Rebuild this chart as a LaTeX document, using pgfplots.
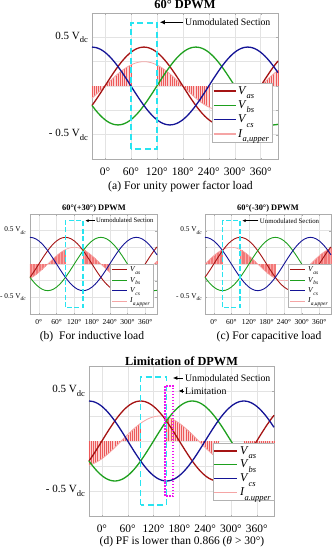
\documentclass[border=0pt]{standalone}
\usepackage{fontspec}
\setmainfont{Liberation Serif}
\usepackage{pgfplots}
\pgfplotsset{compat=1.18}
\usepackage{pgfplotstable}
\usetikzlibrary{arrows.meta}

\definecolor{cva}{RGB}{165,20,20}
\definecolor{cvb}{RGB}{30,160,30}
\definecolor{cvc}{RGB}{20,20,150}
\definecolor{cia}{RGB}{245,165,165}
\definecolor{hatchln}{RGB}{236,90,90}
\definecolor{hatchbg}{RGB}{252,212,212}
\definecolor{hatchlnb}{RGB}{242,120,120}
\definecolor{hatchbgb}{RGB}{250,170,170}
\definecolor{ccyan}{RGB}{40,228,240}
\definecolor{cmag}{RGB}{240,20,240}

\newcommand{\dcA}{\raisebox{-3.5pt}{\fontsize{8.5}{8.5}\selectfont dc}}
\newcommand{\dcB}{\raisebox{-2.2pt}{\fontsize{5.5}{5.5}\selectfont\itshape dc}}
\newcommand{\LA}[2]{\textit{#1}\raisebox{-4.5pt}{\fontsize{8.5}{8.5}\selectfont\itshape #2}}
\newcommand{\LB}[2]{\textit{#1}\raisebox{-2.6pt}{\fontsize{5.5}{5.5}\selectfont\itshape #2}}

\pgfplotstableread{
t va vb vc
-30 -0.2 -0.2 0.4
-20 -0.1368 -0.2571 0.3939
-10 -0.0695 -0.3064 0.3759
0 0 -0.3464 0.3464
10 0.0695 -0.3759 0.3064
20 0.1368 -0.3939 0.2571
30 0.2 -0.4 0.2
40 0.2571 -0.3939 0.1368
50 0.3064 -0.3759 0.0695
60 0.3464 -0.3464 0
70 0.3759 -0.3064 -0.0695
80 0.3939 -0.2571 -0.1368
90 0.4 -0.2 -0.2
100 0.3939 -0.1368 -0.2571
110 0.3759 -0.0695 -0.3064
120 0.3464 0 -0.3464
130 0.3064 0.0695 -0.3759
140 0.2571 0.1368 -0.3939
150 0.2 0.2 -0.4
160 0.1368 0.2571 -0.3939
170 0.0695 0.3064 -0.3759
180 0 0.3464 -0.3464
190 -0.0695 0.3759 -0.3064
200 -0.1368 0.3939 -0.2571
210 -0.2 0.4 -0.2
220 -0.2571 0.3939 -0.1368
230 -0.3064 0.3759 -0.0695
240 -0.3464 0.3464 0
250 -0.3759 0.3064 0.0695
260 -0.3939 0.2571 0.1368
270 -0.4 0.2 0.2
280 -0.3939 0.1368 0.2571
290 -0.3759 0.0695 0.3064
300 -0.3464 0 0.3464
310 -0.3064 -0.0695 0.3759
320 -0.2571 -0.1368 0.3939
330 -0.2 -0.2 0.4
340 -0.1368 -0.2571 0.3939
350 -0.0695 -0.3064 0.3759
360 0 -0.3464 0.3464
370 0.0695 -0.3759 0.3064
380 0.1368 -0.3939 0.2571
390 0.2 -0.4 0.2
400 0.2571 -0.3939 0.1368
}\volt

\pgfplotstableread{
t ia ib ic id
-30 -0.125 -0.2165 0 -0.2415
-25 -0.1057 -0.2048 0.0218 -0.2349
-20 -0.0855 -0.1915 0.0434 -0.2266
-15 -0.0647 -0.1768 0.0647 -0.2165
-10 -0.0434 -0.1607 0.0855 -0.2048
-5 -0.0218 -0.1434 0.1057 -0.1915
0 0 -0.125 0.125 -0.1768
5 0.0218 -0.1057 0.1434 -0.1607
10 0.0434 -0.0855 0.1607 -0.1434
15 0.0647 -0.0647 0.1768 -0.125
20 0.0855 -0.0434 0.1915 -0.1057
25 0.1057 -0.0218 0.2048 -0.0855
30 0.125 0 0.2165 -0.0647
35 0.1434 0.0218 0.2266 -0.0434
40 0.1607 0.0434 0.2349 -0.0218
45 0.1768 0.0647 0.2415 0
50 0.1915 0.0855 0.2462 0.0218
55 0.2048 0.1057 0.2491 0.0434
60 0.2165 0.125 0.25 0.0647
65 0.2266 0.1434 0.2491 0.0855
70 0.2349 0.1607 0.2462 0.1057
75 0.2415 0.1768 0.2415 0.125
80 0.2462 0.1915 0.2349 0.1434
85 0.2491 0.2048 0.2266 0.1607
90 0.25 0.2165 0.2165 0.1768
95 0.2491 0.2266 0.2048 0.1915
100 0.2462 0.2349 0.1915 0.2048
105 0.2415 0.2415 0.1768 0.2165
110 0.2349 0.2462 0.1607 0.2266
115 0.2266 0.2491 0.1434 0.2349
120 0.2165 0.25 0.125 0.2415
125 0.2048 0.2491 0.1057 0.2462
130 0.1915 0.2462 0.0855 0.2491
135 0.1768 0.2415 0.0647 0.25
140 0.1607 0.2349 0.0434 0.2491
145 0.1434 0.2266 0.0218 0.2462
150 0.125 0.2165 0 0.2415
155 0.1057 0.2048 -0.0218 0.2349
160 0.0855 0.1915 -0.0434 0.2266
165 0.0647 0.1768 -0.0647 0.2165
170 0.0434 0.1607 -0.0855 0.2048
175 0.0218 0.1434 -0.1057 0.1915
180 0 0.125 -0.125 0.1768
185 -0.0218 0.1057 -0.1434 0.1607
190 -0.0434 0.0855 -0.1607 0.1434
195 -0.0647 0.0647 -0.1768 0.125
200 -0.0855 0.0434 -0.1915 0.1057
205 -0.1057 0.0218 -0.2048 0.0855
210 -0.125 0 -0.2165 0.0647
215 -0.1434 -0.0218 -0.2266 0.0434
220 -0.1607 -0.0434 -0.2349 0.0218
225 -0.1768 -0.0647 -0.2415 0
230 -0.1915 -0.0855 -0.2462 -0.0218
235 -0.2048 -0.1057 -0.2491 -0.0434
240 -0.2165 -0.125 -0.25 -0.0647
245 -0.2266 -0.1434 -0.2491 -0.0855
250 -0.2349 -0.1607 -0.2462 -0.1057
255 -0.2415 -0.1768 -0.2415 -0.125
260 -0.2462 -0.1915 -0.2349 -0.1434
265 -0.2491 -0.2048 -0.2266 -0.1607
270 -0.25 -0.2165 -0.2165 -0.1768
275 -0.2491 -0.2266 -0.2048 -0.1915
280 -0.2462 -0.2349 -0.1915 -0.2048
285 -0.2415 -0.2415 -0.1768 -0.2165
290 -0.2349 -0.2462 -0.1607 -0.2266
295 -0.2266 -0.2491 -0.1434 -0.2349
300 -0.2165 -0.25 -0.125 -0.2415
305 -0.2048 -0.2491 -0.1057 -0.2462
310 -0.1915 -0.2462 -0.0855 -0.2491
315 -0.1768 -0.2415 -0.0647 -0.25
320 -0.1607 -0.2349 -0.0434 -0.2491
325 -0.1434 -0.2266 -0.0218 -0.2462
330 -0.125 -0.2165 0 -0.2415
335 -0.1057 -0.2048 0.0218 -0.2349
340 -0.0855 -0.1915 0.0434 -0.2266
345 -0.0647 -0.1768 0.0647 -0.2165
350 -0.0434 -0.1607 0.0855 -0.2048
355 -0.0218 -0.1434 0.1057 -0.1915
360 0 -0.125 0.125 -0.1768
365 0.0218 -0.1057 0.1434 -0.1607
370 0.0434 -0.0855 0.1607 -0.1434
375 0.0647 -0.0647 0.1768 -0.125
380 0.0855 -0.0434 0.1915 -0.1057
385 0.1057 -0.0218 0.2048 -0.0855
390 0.125 0 0.2165 -0.0647
395 0.1434 0.0218 0.2266 -0.0434
400 0.1607 0.0434 0.2349 -0.0218
}\cur

% #1 column, #2 from, #3 to, #4 comb width, #5 comb colour, #6 fill colour
\newcommand{\hatch}[6]{%
\addplot[draw=none, fill=#6, forget plot, restrict x to domain=#2:#3] table[x=t,y=#1]{\cur} \closedcycle;
\addplot[ycomb, #5, line width=#4, forget plot, restrict x to domain=#2:#3] table[x=t,y=#1]{\cur};
}
\newcommand{\volts}[1]{%
\addplot[cva, line width=#1, smooth, forget plot] table[x=t,y=va]{\volt};
\addplot[cvb, line width=#1, smooth, forget plot] table[x=t,y=vb]{\volt};
\addplot[cvc, line width=#1, smooth, forget plot] table[x=t,y=vc]{\volt};
}

\pgfplotsset{
 panel/.style={scale only axis, anchor=south west,
  xmin=-30, xmax=400, ymin=-0.75, ymax=0.75,
  xtick={0,60,120,180,240,300,360},
  xticklabels={0°,60°,120°,180°,240°,300°,360°},
  ytick={-0.5,0.5},
  minor ytick={-0.75,-0.25,0,0.25,0.75},
  grid=both,
  grid style={gray!22, line width=0.4pt},
  minor grid style={gray!22, line width=0.4pt},
  axis line style={gray!65}, tick style={gray!65},
  major tick length=1.5pt, minor tick length=1.5pt,
  clip=false, legend cell align=left},
}

\begin{document}
\begin{tikzpicture}
\useasboundingbox (0,0) rectangle (333pt,-550pt);

% ---------------- (a)
\begin{axis}[panel, at={(92pt,-159pt)}, width=186pt, height=146pt,
 xticklabel style={font=\fontsize{11.5}{12}\selectfont, inner sep=0pt, anchor=north, yshift=-9pt},
 yticklabel style={font=\fontsize{11}{12}\selectfont, inner sep=0pt, anchor=east, xshift=-4pt},
 yticklabels={{- 0.5 V\dcA},{0.5 V\dcA}},
 legend style={at={(rel axis cs:0.968,0.52)}, anchor=north east, font=\fontsize{12}{12}\selectfont, draw=gray!60, inner xsep=1pt, inner ysep=1pt, row sep=1pt},
 legend image code/.code={\draw[#1] (0pt,0pt) -- (22pt,0pt);},
]
\hatch{ia}{-30}{60}{0.4pt}{hatchln}{hatchbg}
\hatch{ia}{120}{240}{0.4pt}{hatchln}{hatchbg}
\hatch{ia}{300}{400}{0.4pt}{hatchln}{hatchbg}
\addplot[cia, line width=0.8pt, smooth, forget plot] table[x=t,y=ia]{\cur};
\volts{1.3pt}
\draw[ccyan, line width=1.7pt, dash pattern=on 6pt off 3.5pt] (60,-0.65) rectangle (120,0.65);
\draw[-{Latex[length=5pt,width=4.5pt]}, line width=0.8pt] (181,0.655) -- (127,0.655);
\node[anchor=west, inner sep=0pt, font=\fontsize{9.8}{10}\selectfont] at (185,0.655) {Unmodulated Section};
\addlegendimage{cva, line width=1.3pt}\addlegendentry{\LA{V}{as}}
\addlegendimage{cvb, line width=1.3pt}\addlegendentry{\LA{V}{bs}}
\addlegendimage{cvc, line width=1.3pt}\addlegendentry{\LA{V}{cs}}
\addlegendimage{cia, line width=1.3pt}\addlegendentry{\LA{I}{a,upper}}
\end{axis}

% ---------------- (b)
\begin{axis}[panel, at={(30pt,-314pt)}, width=127pt, height=100pt,
 xticklabel style={font=\fontsize{7.5}{8}\selectfont, inner sep=0pt, anchor=north, yshift=-5.3pt},
 yticklabel style={font=\fontsize{7.3}{8}\selectfont, inner sep=0pt, anchor=east, xshift=-4pt},
 yticklabels={{- 0.5 V\dcB},{0.5 V\dcB}},
 legend style={at={(rel axis cs:0.9685,0.5)}, anchor=north east, font=\fontsize{7.5}{7.5}\selectfont, draw=gray!60, inner xsep=1pt, inner ysep=0.5pt, row sep=0pt},
 legend image code/.code={\draw[#1] (0pt,0pt) -- (15pt,0pt);},
]
\hatch{ib}{-30}{90}{0.25pt}{hatchlnb}{hatchbgb}
\hatch{ib}{150}{270}{0.25pt}{hatchlnb}{hatchbgb}
\hatch{ib}{330}{400}{0.25pt}{hatchlnb}{hatchbgb}
\addplot[cia, line width=0.6pt, smooth, forget plot] table[x=t,y=ib]{\cur};
\volts{0.9pt}
\draw[ccyan, line width=1.4pt, dash pattern=on 5pt off 2.5pt] (90,-0.65) rectangle (150,0.65);
\draw[-{Latex[length=3.5pt,width=3pt]}, line width=0.6pt] (190,0.65) -- (157,0.65);
\node[anchor=west, inner sep=0pt, font=\fontsize{6.6}{7}\selectfont] at (193,0.65) {Unmodulated Section};
\addlegendimage{cva, line width=1pt}\addlegendentry{\LB{V}{as}}
\addlegendimage{cvb, line width=1.6pt}\addlegendentry{\LB{V}{bs}}
\addlegendimage{cvc, line width=1pt}\addlegendentry{\LB{V}{cs}}
\addlegendimage{cia, line width=1pt}\addlegendentry{\LB{I}{a,upper}}
\end{axis}

% ---------------- (c)
\begin{axis}[panel, at={(205pt,-314pt)}, width=126pt, height=100pt,
 xticklabel style={font=\fontsize{7.5}{8}\selectfont, inner sep=0pt, anchor=north, yshift=-5.3pt},
 yticklabel style={font=\fontsize{7.3}{8}\selectfont, inner sep=0pt, anchor=east, xshift=-3pt},
 yticklabels={{- 0.5 V\dcB},{0.5 V\dcB}},
 legend style={at={(rel axis cs:1,0.5)}, anchor=north east, font=\fontsize{7.5}{7.5}\selectfont, draw=gray!60, inner xsep=1pt, inner ysep=0.5pt, row sep=0pt},
 legend image code/.code={\draw[#1] (0pt,0pt) -- (15pt,0pt);},
]
\hatch{ic}{-30}{30}{0.25pt}{hatchlnb}{hatchbgb}
\hatch{ic}{90}{210}{0.25pt}{hatchlnb}{hatchbgb}
\hatch{ic}{270}{400}{0.25pt}{hatchlnb}{hatchbgb}
\addplot[cia, line width=0.6pt, smooth, forget plot] table[x=t,y=ic]{\cur};
\volts{0.9pt}
\draw[ccyan, line width=1.4pt, dash pattern=on 5pt off 2.5pt] (30,-0.65) rectangle (90,0.65);
\draw[-{Latex[length=3.5pt,width=3pt]}, line width=0.6pt] (152,0.65) -- (97,0.65);
\node[anchor=west, inner sep=0pt, font=\fontsize{6.8}{7}\selectfont] at (157,0.65) {Unmodulated Section};
\addlegendimage{cva, line width=1pt}\addlegendentry{\LB{V}{as}}
\addlegendimage{cvb, line width=1.6pt}\addlegendentry{\LB{V}{bs}}
\addlegendimage{cvc, line width=1pt}\addlegendentry{\LB{V}{cs}}
\addlegendimage{cia, line width=1pt}\addlegendentry{\LB{I}{a,upper}}
\end{axis}

% ---------------- (d)
\begin{axis}[panel, at={(89pt,-516pt)}, width=185pt, height=150pt,
 xticklabel style={font=\fontsize{11.4}{12}\selectfont, inner sep=0pt, anchor=north, yshift=-9pt},
 yticklabel style={font=\fontsize{11}{12}\selectfont, inner sep=0pt, anchor=east, xshift=-4pt},
 yticklabels={{- 0.5 V\dcA},{0.5 V\dcA}},
 legend style={at={(rel axis cs:1,0.4867)}, anchor=north east, font=\fontsize{12}{12}\selectfont, draw=gray!60, inner xsep=1pt, inner ysep=1pt, row sep=0.5pt},
 legend image code/.code={\draw[#1] (0pt,0pt) -- (23pt,0pt);},
]
\hatch{id}{-30}{90}{0.4pt}{hatchln}{hatchbg}
\hatch{id}{150}{270}{0.4pt}{hatchln}{hatchbg}
\hatch{id}{330}{400}{0.4pt}{hatchln}{hatchbg}
\addplot[cia, line width=0.8pt, smooth, forget plot] table[x=t,y=id]{\cur};
\volts{1.3pt}
\draw[ccyan, line width=1.7pt, dash pattern=on 6pt off 3.5pt] (90,-0.64) rectangle (150,0.64);
\draw[cmag, line width=1.8pt, dash pattern=on 1.6pt off 1.4pt] (147,-0.55) rectangle (166,0.55);
\draw[-{Latex[length=4.5pt,width=4pt]}, line width=0.8pt] (189,0.63) -- (165,0.63);
\node[anchor=west, inner sep=0pt, font=\fontsize{9.8}{10}\selectfont] at (193,0.63) {Unmodulated Section};
\draw[-{Latex[length=4.5pt,width=4pt]}, line width=0.8pt] (191,0.5) -- (178,0.5);
\node[anchor=west, inner sep=0pt, font=\fontsize{9.8}{10}\selectfont] at (193,0.5) {Limitation};
\addlegendimage{cva, line width=1.3pt}\addlegendentry{\LA{V}{as}}
\addlegendimage{cvb, line width=1.3pt}\addlegendentry{\LA{V}{bs}}
\addlegendimage{cvc, line width=1.3pt}\addlegendentry{\LA{V}{cs}}
\addlegendimage{cia, line width=1.3pt}\addlegendentry{\LA{I}{a.upper}}
\end{axis}

% titles and captions
\node[anchor=base, font=\bfseries\fontsize{12.4}{13}\selectfont] at (185pt,-8.5pt) {60° DPWM};
\node[anchor=base, font=\fontsize{11.7}{12}\selectfont] at (180.5pt,-189.5pt) {(a) For unity power factor load};
\node[anchor=base, font=\bfseries\fontsize{8.4}{9}\selectfont] at (94pt,-210.5pt) {60°(+30°) DPWM};
\node[anchor=base, font=\bfseries\fontsize{8.4}{9}\selectfont] at (268pt,-210.5pt) {60°(-30°) DPWM};
\node[anchor=base, font=\fontsize{11.6}{12}\selectfont] at (92pt,-339.5pt) {(b)\ \ For inductive load};
\node[anchor=base, font=\fontsize{11.6}{12}\selectfont] at (269pt,-339.5pt) {(c) For capacitive load};
\node[anchor=base, font=\bfseries\fontsize{12.3}{13}\selectfont] at (181.5pt,-365pt) {Limitation of DPWM};
\node[anchor=base, font=\fontsize{11.5}{12}\selectfont] at (182pt,-544.5pt) {(d) PF is lower than 0.866 (\textit{θ} > 30°)};
\end{tikzpicture}
\end{document}
